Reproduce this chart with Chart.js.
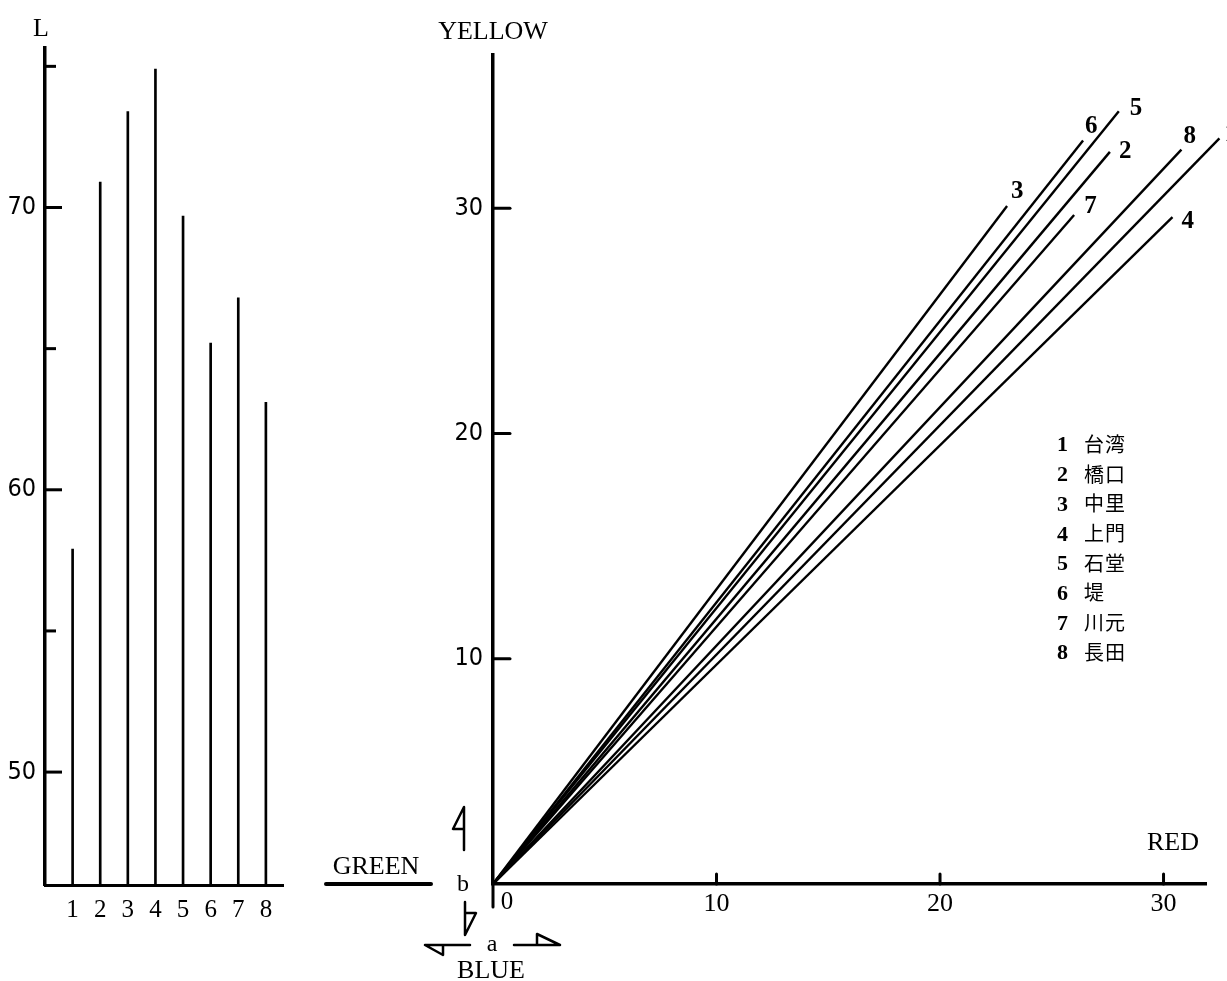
<!DOCTYPE html>
<html>
<head>
<meta charset="utf-8">
<script src="https://cdn.jsdelivr.net/npm/chart.js@4.4.1/dist/chart.umd.min.js"></script>
<style>
  html, body { margin:0; padding:0; background:#fff; }
  body { width:1227px; height:981px; position:relative; overflow:hidden; }
  canvas { position:absolute; top:0; }
  .t { position:absolute; font-family:"Liberation Serif","DejaVu Serif",serif; color:#000; white-space:nowrap; transform:translate(-50%,-50%); line-height:1; }
  #legend { position:absolute; left:1057px; top:428px; color:#000; }
  #legend div { height:29.7px; line-height:29.7px; white-space:nowrap; }
  #legend .n { display:inline-block; width:27px; font-family:"Liberation Serif",serif; font-weight:bold; font-size:22px; vertical-align:middle; }
  #legend .c { font-family:"Noto Sans CJK JP","Noto Sans CJK SC",sans-serif; font-size:20px; letter-spacing:1px; vertical-align:middle; line-height:1; }
</style>
</head>
<body>
<canvas id="left" width="300" height="981" style="left:0"></canvas>
<canvas id="right" width="927" height="981" style="left:300px"></canvas>
<div class="t" style="left:41px;top:28px;font-size:26px">L</div>
<div class="t" style="left:493px;top:31px;font-size:26px">YELLOW</div>
<div class="t" style="left:376px;top:866px;font-size:26px">GREEN</div>
<div class="t" style="left:1173px;top:842px;font-size:26px">RED</div>
<div class="t" style="left:491px;top:970px;font-size:26px">BLUE</div>
<div class="t" style="left:492px;top:943px;font-size:24px">a</div>
<div class="t" style="left:463px;top:883px;font-size:24px">b</div>
<div id="legend"></div>
<script>
// ---- data ----
const categories = ['1','2','3','4','5','6','7','8'];
const placeNames = ['台湾','橋口','中里','上門','石堂','堤','川元','長田'];
const lValues = [57.9, 70.9, 73.4, 74.9, 69.7, 65.2, 66.8, 63.1];
const aValues = [32.5, 27.6, 23.0, 30.4, 28.0, 26.4, 26.0, 30.8];
const bValues = [33.1, 32.5, 30.1, 29.6, 34.3, 33.0, 29.7, 32.6];
const lLabeledTicks = [50, 60, 70];
const abLabeledTicks = [10, 20, 30];

// ---- style / layout constants ----
const L_MIN = 46, L_MAX = 75.65;
const A_MAX = 31.9, B_MAX = 36.8;
const endLabelOffsets = [[5,-4],[9,0],[4,-14],[9,4],[11,-3],[2,-14],[10,-8],[2,-13]];
const SERIF = '"Liberation Serif","DejaVu Serif",serif';
const NARROW = '"Liberation Sans Narrow","DejaVu Sans Condensed","Liberation Sans",sans-serif';

document.getElementById('legend').innerHTML = categories.map((c,i) =>
  `<div><span class="n">${c}</span><span class="c">${placeNames[i]}</span></div>`).join('');

Chart.defaults.color = '#000';
Chart.defaults.font.family = SERIF;

// ---- left chart: L values ----
const innerTicksLeft = {
  id: 'innerTicksLeft',
  afterDraw(chart) {
    const ctx = chart.ctx, y = chart.scales.y, ca = chart.chartArea;
    ctx.save();
    ctx.strokeStyle = '#000';
    ctx.lineWidth = 3;
    y.ticks.forEach(t => {
      const py = y.getPixelForValue(t.value);
      const len = lLabeledTicks.includes(t.value) ? 17 : 11;
      ctx.beginPath(); ctx.moveTo(ca.left, py); ctx.lineTo(ca.left + len, py); ctx.stroke();
    });
    ctx.restore();
  }
};

new Chart(document.getElementById('left'), {
  type: 'bar',
  data: {
    datasets: [{
      data: categories.map((c, i) => ({ x: i + 1, y: [L_MIN, lValues[i]] })),
      backgroundColor: '#000',
      borderWidth: 0,
      barThickness: 2
    }]
  },
  options: {
    responsive: false, animation: false,
    layout: { padding: { top: 48, right: 17, left: 0, bottom: 0 } },
    plugins: { legend: { display: false }, tooltip: { enabled: false } },
    scales: {
      x: {
        type: 'linear', min: 0, max: 8.62, offset: false,
        grid: { display: false, drawTicks: false, offset: false },
        border: { color: '#000', width: 3 },
        ticks: {
          stepSize: 1, includeBounds: false, autoSkip: false, maxRotation: 0, padding: 10,
          font: { family: SERIF, size: 25 },
          callback: v => (Number.isInteger(v) && v >= 1 && v <= categories.length) ? categories[v - 1] : ''
        },
        afterFit: s => { s.height = 96; }
      },
      y: {
        type: 'linear', min: L_MIN, max: L_MAX,
        grid: { display: false, drawTicks: false },
        border: { color: '#000', width: 3.5 },
        ticks: {
          stepSize: 5, includeBounds: false, autoSkip: false, padding: 9,
          font: { family: NARROW, size: 25 },
          callback: v => lLabeledTicks.includes(v) ? String(v) : ''
        },
        afterFit: s => { s.width = 45; }
      }
    }
  },
  plugins: [innerTicksLeft]
});

// ---- right chart: a / b ----
const rightDecor = {
  id: 'rightDecor',
  afterDraw(chart) {
    const ctx = chart.ctx, x = chart.scales.x, y = chart.scales.y;
    const ox = x.getPixelForValue(0), oy = y.getPixelForValue(0);
    ctx.save();
    ctx.strokeStyle = '#000';
    ctx.fillStyle = '#000';
    ctx.lineCap = 'round';
    ctx.lineWidth = 3;
    y.ticks.forEach(t => {
      if (!abLabeledTicks.includes(t.value)) return;
      const py = y.getPixelForValue(t.value);
      ctx.beginPath(); ctx.moveTo(ox, py); ctx.lineTo(ox + 17, py); ctx.stroke();
    });
    x.ticks.forEach(t => {
      if (!abLabeledTicks.includes(t.value)) return;
      const px = x.getPixelForValue(t.value);
      ctx.beginPath(); ctx.moveTo(px, oy); ctx.lineTo(px, oy - 10); ctx.stroke();
    });
    ctx.beginPath(); ctx.moveTo(ox, oy); ctx.lineTo(ox, oy + 23); ctx.stroke();
    ctx.lineWidth = 4;
    ctx.beginPath(); ctx.moveTo(ox - 167, oy); ctx.lineTo(ox - 62, oy); ctx.stroke();
    ctx.font = '25px ' + SERIF;
    ctx.textAlign = 'center'; ctx.textBaseline = 'middle';
    ctx.fillText('0', ox + 14, oy + 18);
    ctx.lineWidth = 2.5;
    ctx.lineJoin = 'round';
    const poly = pts => { ctx.beginPath(); ctx.moveTo(pts[0][0] + ox, pts[0][1] + oy); for (let k = 1; k < pts.length; k++) ctx.lineTo(pts[k][0] + ox, pts[k][1] + oy); ctx.stroke(); };
    poly([[-29, -34], [-29, -77], [-40, -55], [-29, -55]]);
    poly([[-28, 18], [-28, 51], [-17, 29], [-28, 29]]);
    poly([[-23, 61], [-68, 61], [-50, 71], [-50, 61]]);
    poly([[21, 61], [67, 61], [44, 50], [44, 61]]);
    ctx.font = 'bold 25px ' + SERIF;
    ctx.textAlign = 'left'; ctx.textBaseline = 'middle';
    categories.forEach((c, i) => {
      const px = x.getPixelForValue(aValues[i]) + endLabelOffsets[i][0];
      const py = y.getPixelForValue(bValues[i]) + endLabelOffsets[i][1];
      ctx.fillText(c, px, py);
    });
    ctx.restore();
  }
};

new Chart(document.getElementById('right'), {
  type: 'scatter',
  data: {
    datasets: categories.map((c, i) => ({
      label: c,
      data: [{ x: 0, y: 0 }, { x: aValues[i], y: bValues[i] }],
      showLine: true,
      borderColor: '#000',
      borderWidth: 2.4,
      pointRadius: 0,
      clip: false
    }))
  },
  options: {
    responsive: false, animation: false,
    layout: { padding: { top: 55, right: 21, left: 0, bottom: 0 } },
    plugins: { legend: { display: false }, tooltip: { enabled: false } },
    scales: {
      x: {
        type: 'linear', min: 0, max: A_MAX,
        grid: { display: false, drawTicks: false },
        border: { color: '#000', width: 3.5 },
        ticks: {
          stepSize: 10, includeBounds: false, autoSkip: false, maxRotation: 0, padding: 5,
          font: { family: SERIF, size: 26 },
          callback: v => abLabeledTicks.includes(v) ? String(v) : ''
        },
        afterFit: s => { s.height = 97; }
      },
      y: {
        type: 'linear', min: 0, max: B_MAX,
        grid: { display: false, drawTicks: false },
        border: { color: '#000', width: 3.5 },
        ticks: {
          stepSize: 10, includeBounds: false, autoSkip: false, padding: 10,
          font: { family: NARROW, size: 25 },
          callback: v => abLabeledTicks.includes(v) ? String(v) : ''
        },
        afterFit: s => { s.width = 193; }
      }
    }
  },
  plugins: [rightDecor]
});
</script>
</body>
</html>
